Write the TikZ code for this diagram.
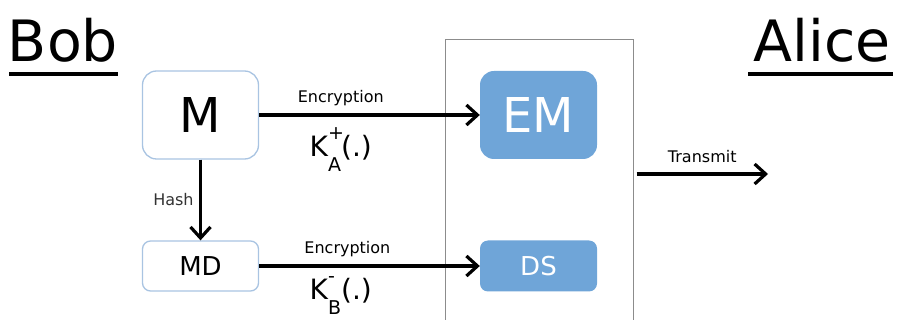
\documentclass[tikz,border=0pt]{standalone}
\usepackage{fontspec}
\setmainfont{DejaVu Sans}
\usetikzlibrary{arrows.meta}
\definecolor{boxedge}{HTML}{A9C4E2}
\definecolor{boxfill}{HTML}{6FA5D8}
\definecolor{framegray}{HTML}{8C8C8C}
\definecolor{labelgray}{HTML}{333333}
\newcommand\keylabel[2]{K\rlap{\raisebox{0.6em}{\fontsize{19}{19}\selectfont #1}}\raisebox{-0.52em}{\fontsize{19}{19}\selectfont #2}(.)}
\begin{document}
\begin{tikzpicture}[x=1pt,y=-1pt,
  wbox/.style={draw=boxedge, line width=1.3pt, fill=white, inner sep=0pt},
  bbox/.style={draw=none, fill=boxfill, text=white, inner sep=0pt},
  conn/.style={line width=3.2pt, -{Straight Barb[length=11pt,width=20pt,line width=3.2pt]}},
  lbl/.style={font=\fontsize{16}{16}\selectfont},
  title/.style={font=\fontsize{57}{57}\selectfont, inner sep=0pt, anchor=base}]
\useasboundingbox (0,0) rectangle (897,320);
\clip (0,0) rectangle (897,320);
% titles
\node[title] (bob) at (63,62) {Bob};
\node[title] (alice) at (822,62) {Alice};
\draw[line width=4pt] (9,74) -- (118,74);
\draw[line width=4pt] (748,74) -- (893,74);
% outer frame
\node[draw=framegray, line width=1pt, minimum width=188pt, minimum height=300pt, inner sep=0pt] (frame) at (539,190) {};
% boxes
\node[wbox, minimum width=116pt, minimum height=88pt, rounded corners=14pt, font=\fontsize{48}{48}\selectfont] (M) at (200.5,115) {M};
\node[wbox, minimum width=116pt, minimum height=50pt, rounded corners=8pt, font=\fontsize{26}{26}\selectfont] (MD) at (200.5,266) {MD};
\node[bbox, minimum width=117pt, minimum height=88pt, rounded corners=14pt, font=\fontsize{48}{48}\selectfont] (EM) at (538.5,115) {EM};
\node[bbox, minimum width=117pt, minimum height=51pt, rounded corners=8pt, font=\fontsize{26}{26}\selectfont] (DS) at (538.5,266) {DS};
% connectors
\draw[conn] (M.east) -- node[pos=0.37, above=4pt, lbl]{Encryption}
  node[pos=0.37, below=8pt, font=\fontsize{28}{28}\selectfont]{\keylabel{+}{A}} (EM.west);
\draw[conn] (MD.east) -- node[pos=0.40, above=4pt, lbl]{Encryption}
  node[pos=0.37, below=6pt, font=\fontsize{28}{28}\selectfont]{\keylabel{-}{B}} (DS.west);
\draw[conn] (M.south) -- node[left=2pt, lbl, text=labelgray]{Hash} (MD.north);
\coordinate (tx) at (768,174);
\draw[conn] (frame.east |- tx) ++(3,0) -- node[above=6pt, lbl]{Transmit} (tx);
\end{tikzpicture}
\end{document}
